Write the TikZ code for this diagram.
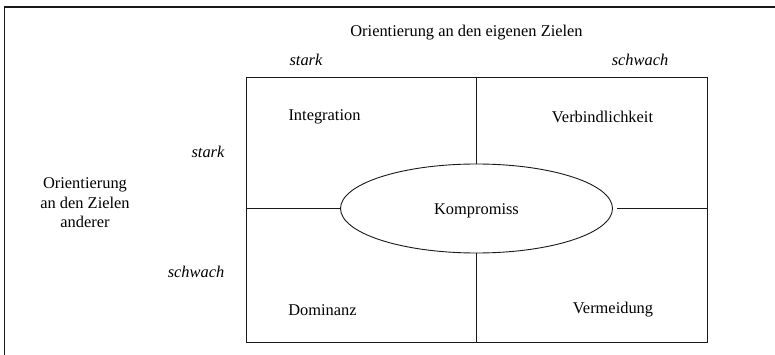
\documentclass[tikz,border=0pt]{standalone}
\usepackage{fontspec}
\setmainfont{Liberation Serif}
\usetikzlibrary{shapes.geometric}
\begin{document}
\begin{tikzpicture}[x=1pt,y=-1pt,
  txt/.style={inner sep=0pt,font=\fontsize{16.4}{19}\selectfont},
  lvl/.style={txt,font=\fontsize{16.4}{19}\selectfont\itshape},
  frameline/.style={line width=1.1pt,draw=black!90},
  gridline/.style={line width=0.9pt,draw=black!90}]
  \useasboundingbox (0,0) rectangle (775,355);
  % open frame: top and left edge only
  \coordinate (ftl) at (4.5,7);
  \coordinate (ftr) at (775,7);
  \coordinate (fbl) at (4.5,355);
  \draw[frameline] (fbl) -- (ftl) -- (ftr);
  % four-field matrix
  \node[gridline,draw,rectangle,minimum width=461,minimum height=265,inner sep=0pt] (grid) at (476.5,209.5) {};
  \node[gridline,draw,ellipse,minimum width=272,minimum height=89,inner sep=0pt,fill=white] (komp) at (476.5,208.5) {};
  \node[txt] (komptxt) at (476.5,210.5) {Kompromiss};
  \draw[gridline] (grid.north) -- (komp.north);
  \draw[gridline] (komp.south) -- (grid.south);
  \draw[gridline] (grid.west |- komp.west) -- (komp.west);
  \coordinate (kright) at ([xshift=4.5]komp.east);
  \draw[gridline] (kright) -- (grid.east |- kright);
  % quadrant labels
  \node[txt] (integ) at (324.5,117) {Integration};
  \node[txt] (verb) at (602.5,117) {Verbindlichkeit};
  \node[txt] (dom) at (322.5,310) {Dominanz};
  \node[txt] (verm) at (613,310) {Vermeidung};
  % axis captions
  \node[txt] (own) at (466.5,33) {Orientierung an den eigenen Zielen};
  \node[lvl] (ostark) at (306,60) {stark};
  \node[lvl] (oschwach) at (640,60) {schwach};
  \node[txt,align=center,font=\fontsize{16.4}{19.5}\selectfont] (other) at (85,203) {Orientierung\\an den Zielen\\anderer};
  \node[lvl] (astark) at (208,152) {stark};
  \node[lvl] (aschwach) at (196,272) {schwach};
\end{tikzpicture}
\end{document}
